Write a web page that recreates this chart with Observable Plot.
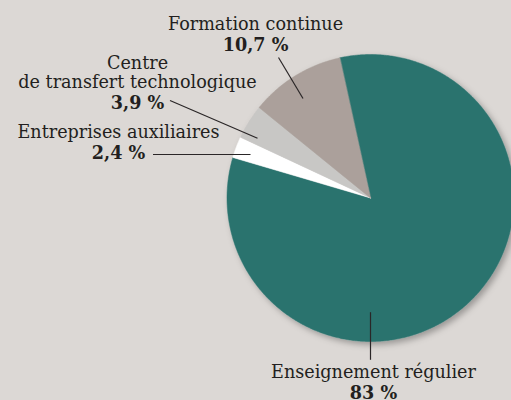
<!DOCTYPE html>
<html>
<head>
<meta charset="utf-8">
<script src="https://cdn.jsdelivr.net/npm/d3@7"></script>
<script src="https://cdn.jsdelivr.net/npm/@observablehq/plot@0.6"></script>
<style>
  html, body { margin: 0; padding: 0; background: #dcd8d5; }
  #chart svg { display: block; }
</style>
</head>
<body>
<div id="chart"></div>
<script>
// ---- data ----
const categories = ["Enseignement régulier", "Entreprises auxiliaires", "Centre de transfert technologique", "Formation continue"];
const values = [83, 2.4, 3.9, 10.7];
const valueLabels = ["83 %", "2,4 %", "3,9 %", "10,7 %"];
const nameLines = [["Enseignement régulier"], ["Entreprises auxiliaires"], ["Centre", "de transfert technologique"], ["Formation continue"]];
const colors = ["#2b736e", "#ffffff", "#c8c7c5", "#aba09b"];

// ---- layout (pixels) ----
const W = 511, H = 400;
const cx = 370, cy = 197.5, R = 143.5;
const startDeg = -12.4;
// label anchors: [x center, baseline of first name line, line step, baseline of value]
const labelPos = [
  {x: 373, y: 377, step: 20, vy: 398},
  {x: 118, y: 137, step: 20, vy: 158},
  {x: 137, y: 68, step: 19.4, vy: 108},
  {x: 255, y: 29.3, step: 20, vy: 50}
];
// leader lines [x1,y1,x2,y2] pixels
const leaders = [
  [370, 311.7, 370, 359.3],
  [152.5, 154, 250, 154],
  [169.5, 100, 257, 137.7],
  [278, 57, 302.5, 98]
];

const toX = px => (px - cx) / R;
const toY = py => (cy - py) / R;

// pie geometry from the values
const pie = d3.pie().sort(null).value(d => d)
  .startAngle(startDeg * Math.PI / 180)
  .endAngle(startDeg * Math.PI / 180 + 2 * Math.PI);
const arcs = pie(values);
const slicePts = [];
arcs.forEach((a, i) => {
  const cat = categories[i];
  slicePts.push({cat, x: 0, y: 0});
  const n = Math.max(2, Math.ceil((a.endAngle - a.startAngle) / (Math.PI / 360)));
  for (let k = 0; k <= n; k++) {
    const t = a.startAngle + (a.endAngle - a.startAngle) * k / n;
    slicePts.push({cat, x: Math.sin(t), y: Math.cos(t)});
  }
});

const nameTexts = [];
const valueTexts = [];
categories.forEach((c, i) => {
  const p = labelPos[i];
  nameLines[i].forEach((line, j) => nameTexts.push({t: line, x: toX(p.x), y: toY(p.y + j * p.step)}));
  valueTexts.push({t: valueLabels[i], x: toX(p.x), y: toY(p.vy)});
});
const leaderData = leaders.map(l => ({x1: toX(l[0]), y1: toY(l[1]), x2: toX(l[2]), y2: toY(l[3])}));

const chart = Plot.plot({
  width: W, height: H,
  margin: 0,
  style: {background: "#dcd8d5", fontFamily: "DejaVu Serif"},
  x: {domain: [toX(0), toX(W)], range: [0, W], axis: null},
  y: {domain: [toY(H), toY(0)], range: [H, 0], axis: null},
  color: {domain: categories, range: colors},
  marks: [
    Plot.line(slicePts, {x: "x", y: "y", z: "cat", fill: "cat", stroke: "cat", strokeWidth: 0.5, curve: "linear-closed"}),
    Plot.link(leaderData, {x1: "x1", y1: "y1", x2: "x2", y2: "y2", stroke: "#2a2627", strokeWidth: 1.2}),
    Plot.text(nameTexts, {x: "x", y: "y", text: "t", lineAnchor: "bottom", textAnchor: "middle", fontSize: 17.6, fill: "#231f20"}),
    Plot.text(valueTexts, {x: "x", y: "y", text: "t", lineAnchor: "bottom", textAnchor: "middle", fontSize: 17.6, fontWeight: "bold", fill: "#231f20"})
  ]
});

// soft drop shadow under the pie
const svg = d3.select(chart);
const defs = svg.insert("defs", ":first-child");
const f = defs.append("filter").attr("id", "pieShadow").attr("x", "-20%").attr("y", "-20%").attr("width", "140%").attr("height", "140%");
f.append("feDropShadow").attr("dx", 3).attr("dy", 3).attr("stdDeviation", 3).attr("flood-color", "#000").attr("flood-opacity", 0.3);
svg.select('g[aria-label="line"]').attr("filter", "url(#pieShadow)");

document.getElementById("chart").appendChild(chart);
</script>
</body>
</html>
